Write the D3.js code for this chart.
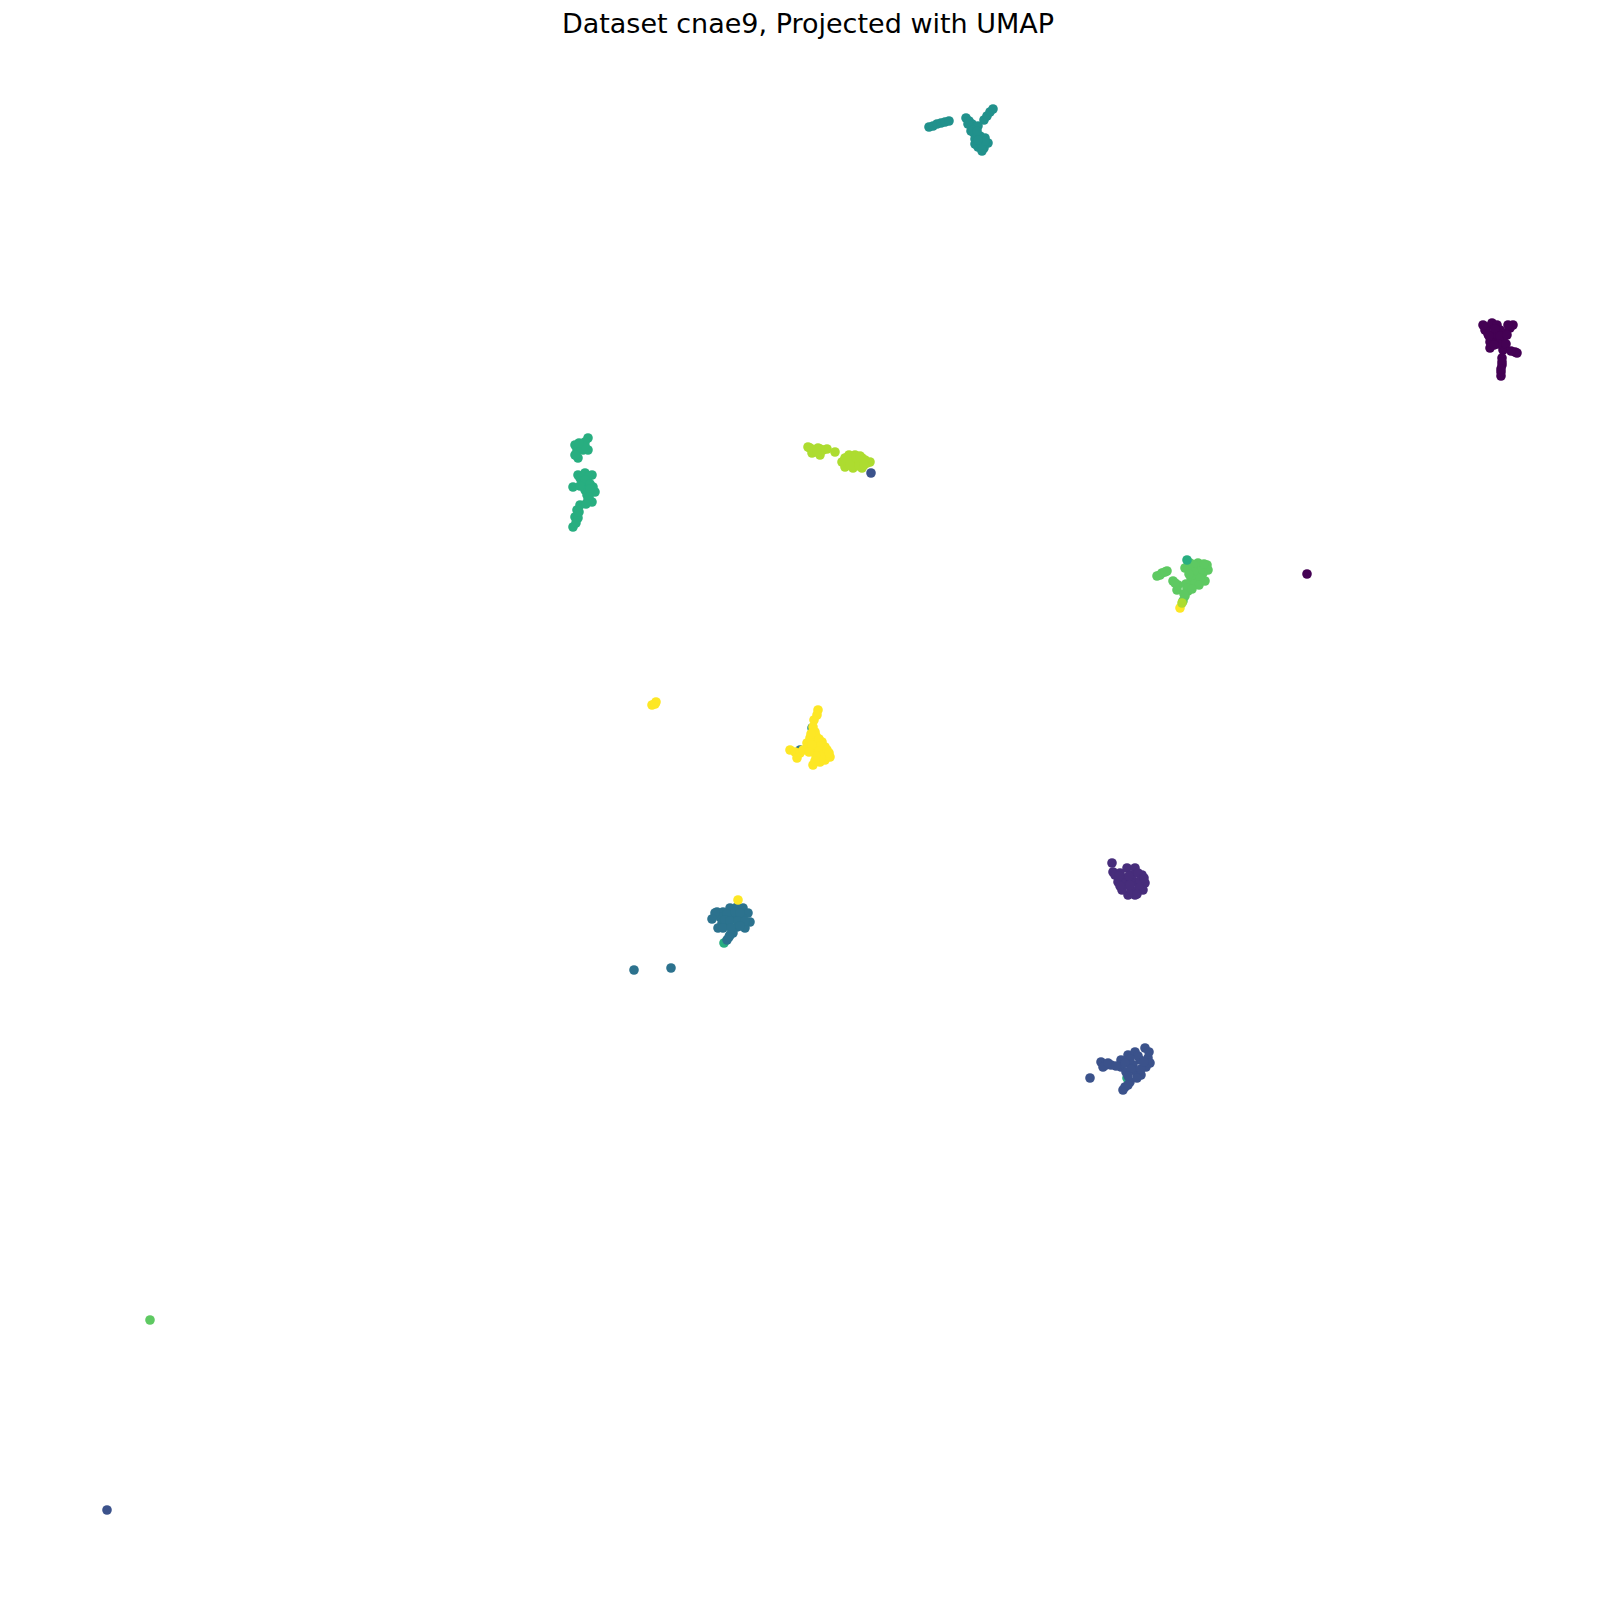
<!DOCTYPE html>
<html>
<head>
<meta charset="utf-8">
<script src="https://cdn.jsdelivr.net/npm/d3@7"></script>
<style>
  html, body { margin: 0; padding: 0; background: #fff; }
  svg { display: block; }
</style>
</head>
<body>
<script>
// ---- data (UMAP embedding) ----
const title = "Dataset cnae9, Projected with UMAP";
const classes = [1, 2, 3, 4, 5, 6, 7, 8, 9];

const class1 = [[148.7,128.7],[149.2,129.1],[150.0,128.4],[151.0,128.6],[151.3,128.9],[149.5,127.7],[150.3,127.4],[149.0,127.2],[149.0,126.6],[148.5,128.4],[150.3,126.4],[151.5,126.2],[151.7,126.1],[150.2,125.6],[150.2,124.9],[150.1,124.2],[150.1,123.8],[149.7,128.9],[150.5,128.1],[148.3,128.9],
  [148.8,128.0],[149.5,128.5],[150.0,127.8],[150.7,127.9],[150.8,128.9],[149.8,127.0],[148.9,127.8],[150.6,127.0],[151.1,126.3],[149.4,126.9],[150.2,125.2],[150.1,124.5],[130.7,104.0]];
const class2 = [[111.2,75.1],[111.3,74.2],[112.0,74.1],[112.7,74.6],[113.5,74.6],[114.2,73.9],[114.5,73.1],[114.3,72.4],[113.5,71.9],[112.8,71.9],[112.2,72.4],[111.8,73.2],[112.7,73.2],[113.5,73.2],[113.2,73.9],[111.5,73.9],
  [112.3,73.6],[112.9,73.8],[113.8,74.1],[114.0,73.3],[113.9,72.6],[113.1,72.4],[112.4,72.9],[113.0,72.9],[111.9,73.8],[113.7,72.0],[114.4,73.6],[112.0,72.8]];
const class3 = [[109.0,53.6],[110.1,55.2],[110.6,54.9],[111.1,54.9],[110.3,54.7],[112.1,55.4],[112.8,55.9],[113.5,56.2],[114.5,56.6],[114.8,55.6],[114.0,55.4],[113.3,54.9],[112.1,54.7],[112.6,54.2],[113.6,54.2],[114.6,54.7],[115.0,55.1],[114.1,53.9],[113.0,53.2],[112.5,52.7],[112.3,52.4],
  [113.8,55.8],[113.0,55.5],[112.5,55.1],[113.1,54.5],[114.1,54.5],[114.4,55.2],[113.7,53.6],[112.8,53.8],[110.8,55.1],[111.6,54.8],[114.9,56.2],[112.8,52.9],[10.7,10.4]];
const class4 = [[71.7,70.2],[72.3,70.2],[73.0,70.6],[73.7,70.7],[74.3,70.6],[74.8,70.1],[75.0,69.2],[74.2,69.6],[73.3,69.7],[72.0,69.7],[71.5,70.1],[72.2,69.1],[72.8,68.9],[73.7,68.7],[74.5,68.6],[71.8,68.6],[73.3,68.1],[72.7,67.4],
  [72.7,70.0],[73.5,70.2],[74.0,70.1],[72.5,69.4],[73.0,69.3],[73.8,69.3],[74.5,69.3],[72.3,68.6],[73.1,68.6],[74.0,68.8],[71.2,69.5],[73.0,67.9],[72.9,67.7],[63.4,64.4],[67.1,64.6]];
const class5 = [[92.9,148.7],[93.3,148.8],[93.7,149.0],[94.1,149.1],[94.5,149.2],[94.9,149.3],[96.6,149.6],[96.9,149.3],[97.2,149.0],[97.5,148.7],[97.8,148.8],[97.1,148.3],[97.4,148.1],[98.4,149.4],[98.7,149.8],[99.0,150.2],[99.3,150.5],[97.5,147.5],[98.0,147.8],[98.5,147.6],[98.8,147.1],[98.4,146.6],[97.8,146.7],[98.2,146.3],[97.5,147.0],
  [96.8,149.0],[97.3,148.4],[97.7,148.3],[98.0,147.2],[98.2,146.9],[98.5,147.3],[97.8,147.4]];
const class6 = [[58.8,117.6],[58.5,117.2],[58.0,116.9],[57.5,116.9],[57.7,116.4],[58.3,116.4],[58.8,116.4],[57.8,115.6],[57.8,113.9],[58.5,114.1],[59.2,113.9],[57.3,112.7],[58.3,113.2],[58.7,112.7],[59.3,112.7],[59.5,112.2],[58.8,112.1],[58.5,112.4],[59.2,111.2],[58.8,111.4],[58.7,111.9],[58.0,110.9],[57.7,110.4],[57.5,109.7],[57.8,109.6],[57.3,108.7],
  [58.1,116.6],[58.5,116.8],[57.9,117.1],[58.0,113.6],[58.9,113.8],[58.5,113.4],[58.0,112.8],[59.0,113.0],[59.0,112.5],[58.9,111.7],[58.6,111.0],[57.9,110.2],[57.6,109.1],[57.5,115.9]];
const class7 = [[115.7,103.8],[116.2,104.1],[116.7,104.3],[117.3,103.3],[117.8,102.9],[117.7,102.4],[119.0,105.1],[119.8,105.1],[120.7,104.9],[120.8,104.4],[120.3,104.1],[119.7,103.9],[119.5,103.4],[120.5,103.3],[119.0,102.9],[118.8,102.3],[118.5,101.8],[118.3,101.3],[118.5,104.6],[119.3,104.6],
  [119.4,104.9],[120.2,104.8],[120.0,104.3],[119.4,104.2],[120.0,103.6],[119.1,103.6],[119.4,103.0],[118.6,103.0],[118.7,102.6],[118.4,102.0],[116.0,103.9],[116.5,104.2],[117.5,103.1],
  [120.4,105.0],[119.9,102.9],[119.2,102.5],[118.9,104.0],[15.0,29.4]];
const class8 = [[80.8,116.7],[81.0,116.6],[81.5,116.4],[81.2,116.1],[82.0,115.9],[82.3,116.4],[82.7,116.5],[81.8,116.6],[83.5,116.2],[84.2,115.2],[84.8,115.7],[85.5,115.9],[86.2,115.6],[86.7,115.1],[86.2,114.6],[85.3,114.6],[84.5,114.7],[87.0,115.2],[85.7,115.1],[84.8,115.1],
  [81.4,116.3],[82.0,116.5],[81.7,116.2],[84.5,115.4],[85.1,115.4],[85.9,115.4],[86.5,115.4],[85.0,114.9],[85.9,114.8],[86.4,114.9],[84.9,115.9],[85.6,115.7],[86.0,115.8],[84.5,115.6]];
const class9 = [[81.8,90.4],[81.7,89.9],[81.4,89.4],[81.3,88.7],[81.2,88.1],[81.5,88.2],[80.7,87.1],[81.3,87.2],[82.2,87.2],[82.5,86.7],[82.7,85.9],[82.2,86.1],[81.5,86.4],[80.8,86.7],[81.8,85.6],[81.3,84.9],[82.5,85.4],[79.0,86.4],[79.5,86.2],[80.0,86.1],[79.7,85.6],[81.8,86.7],
  [81.6,87.8],[81.9,87.5],[81.0,87.6],[82.0,86.8],[81.2,86.9],[81.9,86.3],[82.3,85.9],[81.6,85.8],[82.0,85.2],[81.5,85.3],[80.3,86.4],[80.9,86.2],[81.1,88.0],
  [83.0,85.7],[82.7,86.4],[82.9,86.1],[65.2,90.9],[65.6,91.2],[65.5,91.0]];

// points of one class lying under another class's cluster (drawn first)
const strayUnder = [[80.0,86.4,4],[81.2,88.6,5],[72.4,67.1,6],[112.7,53.6,6]];
// points of one class lying over another class's cluster (drawn last)
const strayOver = [[87.1,114.1,3],[73.8,71.4,9],[118.7,105.4,6],[118.0,100.6,9],[118.2,101.1,8]];

// ---- drawing ----
const W = 1600, H = 1614;
const svg = d3.select("body").append("svg").attr("width", W).attr("height", H);

const x = d3.scaleLinear().domain([0, 160]).range([0, 1600]);
const y = d3.scaleLinear().domain([0, 161.4]).range([1614, 0]);
const color = d3.scaleSequential(d3.interpolateViridis).domain([1, 9]);

const byClass = [class1, class2, class3, class4, class5, class6, class7, class8, class9];
const main = [];
byClass.forEach((arr, i) => arr.forEach(p => main.push({x: p[0], y: p[1], c: classes[i]})));
const all = [
  ...strayUnder.map(p => ({x: p[0], y: p[1], c: p[2]})),
  ...main,
  ...strayOver.map(p => ({x: p[0], y: p[1], c: p[2]}))
];

svg.append("g")
  .selectAll("circle")
  .data(all)
  .join("circle")
  .attr("cx", d => x(d.x))
  .attr("cy", d => y(d.y))
  .attr("r", 4.8)
  .attr("fill", d => color(d.c));

svg.append("text")
  .attr("x", 808)
  .attr("y", 33)
  .attr("text-anchor", "middle")
  .attr("font-family", "DejaVu Sans")
  .attr("font-size", "27px")
  .attr("fill", "#000")
  .text(title);
</script>
</body>
</html>
